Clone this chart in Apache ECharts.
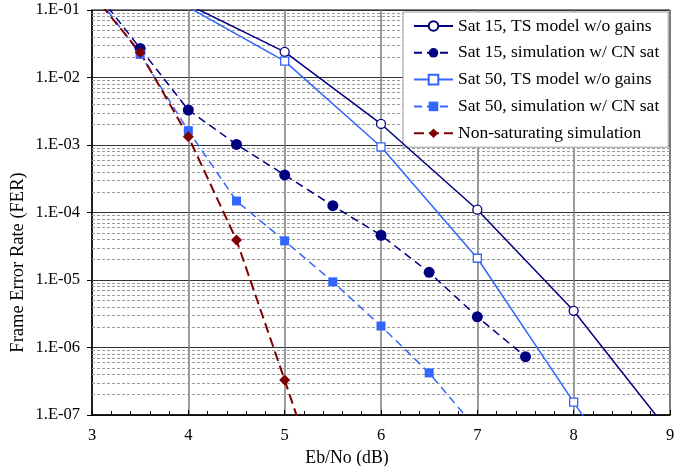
<!DOCTYPE html>
<html>
<head>
<meta charset="utf-8">
<script src="https://cdn.jsdelivr.net/npm/echarts@6/dist/echarts.min.js"></script>
<style>
  html, body { margin: 0; padding: 0; background: #fff; }
  #chart { width: 699px; height: 466px; }
</style>
</head>
<body>
<div id="chart"></div>
<script>
// Eb/No points (dB) and frame error rates for each curve
const sat15ModelX = [4, 5, 6, 7, 8, 9];
const sat15ModelFER = [1.2e-1, 2.4e-2, 2.05e-3, 1.1e-4, 3.5e-6, 5.4e-8];

const sat15SimX = [3, 3.5, 4, 4.5, 5, 5.5, 6, 6.5, 7, 7.5];
const sat15SimFER = [2.2e-1, 2.7e-2, 3.3e-3, 1.02e-3, 3.6e-4, 1.26e-4, 4.6e-5, 1.3e-5, 2.85e-6, 7.3e-7];

const sat50ModelX = [4, 5, 6, 7, 8, 9];
const sat50ModelFER = [1.1e-1, 1.75e-2, 9.4e-4, 2.1e-5, 1.55e-7, 1.2e-9];

const sat50SimX = [3, 3.5, 4, 4.5, 5, 5.5, 6, 6.5, 7];
const sat50SimFER = [2.0e-1, 2.2e-2, 1.63e-3, 1.48e-4, 3.8e-5, 9.4e-6, 2.08e-6, 4.2e-7, 6e-8];

const nonSatX = [3, 3.5, 4, 4.5, 5, 5.5];
const nonSatFER = [1.75e-1, 2.35e-2, 1.33e-3, 3.9e-5, 3.3e-7, 2.5e-9];

const seriesNames = [
  'Sat 15, TS model w/o gains',
  'Sat 15, simulation w/ CN sat',
  'Sat 50, TS model w/o gains',
  'Sat 50, simulation w/ CN sat',
  'Non-saturating simulation'
];

const xTicks = [3, 4, 5, 6, 7, 8, 9];

const NAVY = '#000080';
const BLUE = '#3366ff';
const RED = '#800000';
const FONT = '"Liberation Serif", "Times New Roman", serif';

function pairs(xs, ys) { return xs.map((x, i) => [x, ys[i]]); }

// dashed minor grid lines at 2..9 within every decade
const xMin = xTicks[0], xMax = xTicks[xTicks.length - 1];
const minorLines = [];
for (let e = -7; e <= -2; e++) {
  for (let m = 2; m <= 9; m++) {
    const v = m * Math.pow(10, e);
    minorLines.push({ coords: [[xMin, v], [xMax, v]] });
  }
}

const chart = echarts.init(document.getElementById('chart'), null, { renderer: 'canvas' });

chart.setOption({
  animation: false,
  backgroundColor: '#fff',
  textStyle: { fontFamily: FONT },
  grid: {
    left: 92, right: 29, top: 10, bottom: 51,
    outerBoundsMode: 'none', containLabel: false,
    show: true, borderColor: '#000', borderWidth: 1, backgroundColor: 'transparent'
  },
  legend: {
    data: seriesNames,
    orient: 'vertical',
    left: 403,
    top: 12,
    padding: [5, 9, 5, 10],
    backgroundColor: '#fff',
    borderColor: '#999',
    borderWidth: 1,
    itemWidth: 39,
    itemHeight: 12,
    itemGap: 8.8,
    textStyle: { fontFamily: FONT, fontSize: 17.5, color: '#000' }
  },
  xAxis: {
    type: 'value',
    min: xMin,
    max: xMax,
    interval: 1,
    name: 'Eb/No (dB)',
    nameLocation: 'middle',
    nameGap: 29,
    nameTextStyle: { fontFamily: FONT, fontSize: 17.8, color: '#000', padding: [0, 68, 0, 0] },
    axisLine: { show: true, lineStyle: { color: '#000', width: 1.5 } },
    axisTick: { show: true, inside: true, length: 5, lineStyle: { color: '#000' } },
    minorTick: { show: true, splitNumber: 5, length: 4, lineStyle: { color: '#000' } },
    axisLabel: { fontFamily: FONT, fontSize: 16.5, color: '#000', margin: 12 },
    splitLine: { show: true, lineStyle: { color: '#7a7a7a', width: 1.5 } }
  },
  yAxis: {
    type: 'log',
    logBase: 10,
    min: 1e-7,
    max: 1e-1,
    name: 'Frame Error Rate (FER)',
    nameLocation: 'middle',
    nameGap: 64,
    nameMoveOverlap: false,
    nameTextStyle: { fontFamily: FONT, fontSize: 18.5, color: '#000', padding: [0, 100, 0, 0] },
    axisLine: { show: true, lineStyle: { color: '#000', width: 1.5 } },
    axisTick: { show: true, length: 5, lineStyle: { color: '#000' } },
    axisLabel: {
      fontFamily: FONT, fontSize: 16.5, color: '#000', margin: 12,
      formatter: function (v) {
        const e = Math.round(Math.log10(v));
        const a = Math.abs(e);
        return '1.E' + (e < 0 ? '-' : '+') + (a < 10 ? '0' + a : a);
      }
    },
    splitLine: { show: true, lineStyle: { color: '#333', width: 1 } }
  },
  series: [
    {
      name: '_minor',
      type: 'lines',
      coordinateSystem: 'cartesian2d',
      silent: true,
      z: 1,
      lineStyle: { color: '#9a9a9a', type: [3, 2], width: 1, opacity: 1 },
      data: minorLines
    },
    {
      name: seriesNames[0],
      type: 'line',
      data: pairs(sat15ModelX, sat15ModelFER),
      color: NAVY,
      symbol: 'circle',
      symbolSize: 9,
      itemStyle: { color: '#fff', borderColor: NAVY, borderWidth: 1.3 },
      lineStyle: { color: NAVY, width: 1.5 },
      z: 5
    },
    {
      name: seriesNames[1],
      type: 'line',
      data: pairs(sat15SimX, sat15SimFER),
      color: NAVY,
      symbol: 'circle',
      symbolSize: 11,
      itemStyle: { color: NAVY },
      lineStyle: { color: NAVY, width: 1.5, type: [8, 5] },
      z: 5
    },
    {
      name: seriesNames[2],
      type: 'line',
      data: pairs(sat50ModelX, sat50ModelFER),
      color: BLUE,
      symbol: 'rect',
      symbolSize: 8,
      itemStyle: { color: '#fff', borderColor: BLUE, borderWidth: 1.3 },
      lineStyle: { color: BLUE, width: 1.5 },
      z: 5
    },
    {
      name: seriesNames[3],
      type: 'line',
      data: pairs(sat50SimX, sat50SimFER),
      color: BLUE,
      symbol: 'rect',
      symbolSize: 9,
      itemStyle: { color: BLUE },
      lineStyle: { color: BLUE, width: 1.5, type: [8, 5] },
      z: 5
    },
    {
      name: seriesNames[4],
      type: 'line',
      data: pairs(nonSatX, nonSatFER),
      color: RED,
      symbol: 'diamond',
      symbolSize: 11,
      itemStyle: { color: RED },
      lineStyle: { color: RED, width: 2, type: [10, 5] },
      z: 5
    }
  ]
});
</script>
</body>
</html>
